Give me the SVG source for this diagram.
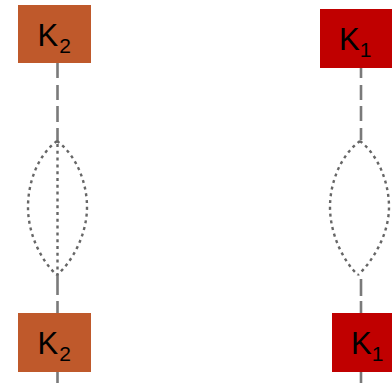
<svg xmlns="http://www.w3.org/2000/svg" width="392" height="383" viewBox="0 0 392 383">
<style>
.k2{fill:#bf592b}
.k1{fill:#c00000}
.t{font-family:"Liberation Sans",Arial,sans-serif;font-size:31px;fill:#000}
.s{font-size:21px}
.solid{fill:none;stroke:#7a7a7a;stroke-width:2.6}
.dot{fill:none;stroke:#666;stroke-width:2.4;stroke-dasharray:3 3.8}
</style>
<g id="connectors">
<path class="solid" d="M57.5 63V78M57.5 85V100M57.5 106V122M57.5 128V141"/>
<path class="solid" d="M57.5 275V295M57.5 301V313M57.5 372V383"/>
<path class="dot" d="M57 141C38 155 28 182 28 207C28 235 42 262 57 275"/>
<path class="dot" d="M57 141C76 155 87 182 87 207C87 235 72 262 57 275"/>
<path class="dot" d="M57.5 144V275"/>
<path class="solid" d="M361 68V78M361 85V100M361 106V121M361 128V140"/>
<path class="solid" d="M361 279V296M361 301V313M361 372V383"/>
<path class="dot" d="M360 141C341 155 330 182 330 207C330 235 344 262 358 275"/>
<path class="dot" d="M360 141C378 155 389 182 389 207C389 235 372 262 358 275"/>
</g>
<g id="k2-top"><rect class="k2" x="18" y="5" width="73" height="58"/><text class="t" x="37.500" y="46">K<tspan class="s" dx="1" dy="7">2</tspan></text></g>
<g id="k2-bottom"><rect class="k2" x="18" y="313" width="73" height="59"/><text class="t" x="37.500" y="354">K<tspan class="s" dx="1" dy="7">2</tspan></text></g>
<g id="k1-top"><rect class="k1" x="320" y="9" width="72" height="59"/><text class="t" x="339" y="50">K<tspan class="s" dy="7">1</tspan></text></g>
<g id="k1-bottom"><rect class="k1" x="332" y="313" width="60" height="59"/><text class="t" x="351" y="354">K<tspan class="s" dy="7">1</tspan></text></g>
</svg>
